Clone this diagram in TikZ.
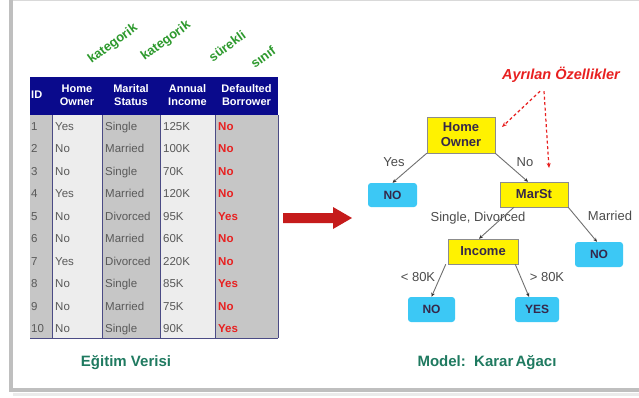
\documentclass[tikz,border=0pt]{standalone}
\usepackage{fontspec}
\setmainfont{Liberation Sans}
\usetikzlibrary{arrows.meta,calc,shadows}
\definecolor{navy}{HTML}{0A0A8C}
\definecolor{cgray}{HTML}{C6C6C6}
\definecolor{clight}{HTML}{EDEDED}
\definecolor{kgreen}{HTML}{2E9A2E}
\definecolor{tgreen}{HTML}{1F7A60}
\definecolor{cred}{HTML}{E82020}
\definecolor{boxtext}{HTML}{35284A}
\definecolor{leafblue}{HTML}{3CC8F5}
\definecolor{edgegray}{HTML}{707070}
\begin{document}
\begin{tikzpicture}[x=1pt,y=-1pt,
  hdr/.style={text=white,font=\fontsize{11}{13}\selectfont\bfseries,align=center,inner sep=0pt},
  cell/.style={anchor=base west,inner sep=0pt,text=black!65,font=\fontsize{11.5}{12}\selectfont},
  cls/.style={anchor=base west,inner sep=0pt,text=cred,font=\fontsize{11.5}{12}\selectfont\bfseries},
  kat/.style={text=kgreen,font=\fontsize{13}{14}\selectfont\bfseries,rotate=36,inner sep=0pt},
  dnode/.style={draw=black!45,fill=yellow,text=boxtext,font=\fontsize{13}{15}\selectfont\bfseries,align=center,inner sep=0pt},
  leaf/.style={fill=leafblue,rounded corners=3pt,text=boxtext,font=\fontsize{12}{14}\selectfont\bfseries,inner sep=0pt},
  edge/.style={draw=edgegray,line width=0.9pt,-{Stealth[length=4pt,width=3.5pt,black!80]}},
  elab/.style={text=black!70,font=\fontsize{13}{15}\selectfont},
  spl/.style={draw=cred,line width=1.2pt,dash pattern=on 3pt off 2.5pt,-{Stealth[length=5pt,width=4pt]}},
  title/.style={text=tgreen,font=\fontsize{15}{17}\selectfont\bfseries}]
\useasboundingbox (0,0) rectangle (639,397);
% panel
\fill[white] (0,0) rectangle (639,397);
\fill[black!8] (13,393) rectangle (639,396);
\fill[black!25] (9,0) rectangle (13,392);
\fill[black!25] (9,388) rectangle (639,392);
\fill[white] (13,1) rectangle (639,388);
\draw[black!15,line width=0.6pt] (13,0.5) -- (639,0.5);
% table columns
\fill[cgray] (30,115) rectangle (52,338);
\fill[clight] (52,115) rectangle (102,338);
\fill[cgray] (102,115) rectangle (160,338);
\fill[clight] (160,115) rectangle (215,338);
\fill[cgray] (215,115) rectangle (278,338);
\fill[navy] (30,77) rectangle (278,115);
\foreach \x in {52,102,160,215,278}
  \draw[navy!45!gray,line width=0.8pt] (\x,115) -- (\x,338);
\draw[navy!45!gray,line width=1pt] (30,338) -- (278,338);
% header
\node[hdr,anchor=west] (hID) at (31,95) {ID};
\node[hdr] (hHO) at (77,95) {Home\\Owner};
\node[hdr] (hMS) at (131,95) {Marital\\Status};
\node[hdr] (hAI) at (187.5,95) {Annual\\Income};
\node[hdr] (hDB) at (246.5,95) {Defaulted\\Borrower};
% rows
\foreach \i/\ho/\ms/\ai/\db in {1/Yes/Single/125K/No,2/No/Married/100K/No,3/No/Single/70K/No,4/Yes/Married/120K/No,5/No/Divorced/95K/Yes,6/No/Married/60K/No,7/Yes/Divorced/220K/No,8/No/Single/85K/Yes,9/No/Married/75K/No,10/No/Single/90K/Yes}{
  \pgfmathsetmacro{\yy}{130+22.5*(\i-1)}
  \node[cell] (id\i) at (31,\yy) {\i};
  \node[cell] (ho\i) at (55,\yy) {\ho};
  \node[cell] (ms\i) at (105,\yy) {\ms};
  \node[cell] (ai\i) at (163,\yy) {\ai};
  \node[cls] (db\i) at (218,\yy) {\db};
}
% type labels
\node[kat] (k1) at (113,44) {kategorik};
\node[kat] (k2) at (166,41) {kategorik};
\node[kat] (k3) at (227,46) {sürekli};
\node[kat] (k4) at (263,57) {sınıf};
% big arrow
\fill[cred!85!black] (283,213) -- (333,213) -- (333,207) -- (352,218) -- (333,229) -- (333,223) -- (283,223) -- cycle;
% tree
\node[dnode,minimum width=68pt,minimum height=36pt] (HO) at (461,135) {Home\\Owner};
\node[leaf,minimum width=49pt,minimum height=24pt] (NO1) at (392.5,195) {NO};
\node[dnode,minimum width=68pt,minimum height=25pt] (MS) at (534,194.5) {MarSt};
\node[dnode,minimum width=70pt,minimum height=25pt] (INC) at (483,251.5) {Income};
\node[leaf,minimum width=48pt,minimum height=25pt] (NO2) at (599,254.5) {NO};
\node[leaf,minimum width=47pt,minimum height=25pt] (NO3) at (431.5,309.5) {NO};
\node[leaf,minimum width=44pt,minimum height=25pt] (YES) at (537,309.5) {YES};
\draw[edge] (HO.south west) -- (NO1.north);
\draw[edge] (HO.south east) -- ([xshift=-6pt]MS.north);
\draw[edge] ([xshift=-20pt]MS.south) -- ([xshift=-4pt]INC.north);
\draw[edge] (MS.south east) -- ([xshift=-2pt]NO2.north);
\draw[edge] ([xshift=-2pt]INC.south west) -- (NO3.north);
\draw[edge] ([xshift=-3pt]INC.south east) -- ([xshift=-8pt]YES.north);
\node[elab] (lYes) at (394,162) {Yes};
\node[elab] (lNo) at (525,162) {No};
\node[elab] (lSD) at (478,218) {Single, Divorced};
\node[elab] (lMa) at (610,216) {Married};
\node[elab] (lLt) at (418,277) {< 80K};
\node[elab] (lGt) at (547,277) {> 80K};
% split attributes
\node[text=cred,font=\fontsize{14.5}{16}\selectfont\bfseries\itshape] (AO) at (561,75) {Ayrılan Özellikler};
\coordinate (t1) at (502,127);
\coordinate (t2) at (549,168);
\draw[spl] ([xshift=-21pt,yshift=-5pt]AO.south) -- (t1);
\draw[spl] ([xshift=-17pt,yshift=-5pt]AO.south) -- (t2);
% titles
\node[title] (T1) at (126,363) {Eğitim Verisi};
\node[title] (T2) at (487,363) {Model:\ \ Karar\hspace{0.15em}Ağacı};
\end{tikzpicture}
\end{document}
